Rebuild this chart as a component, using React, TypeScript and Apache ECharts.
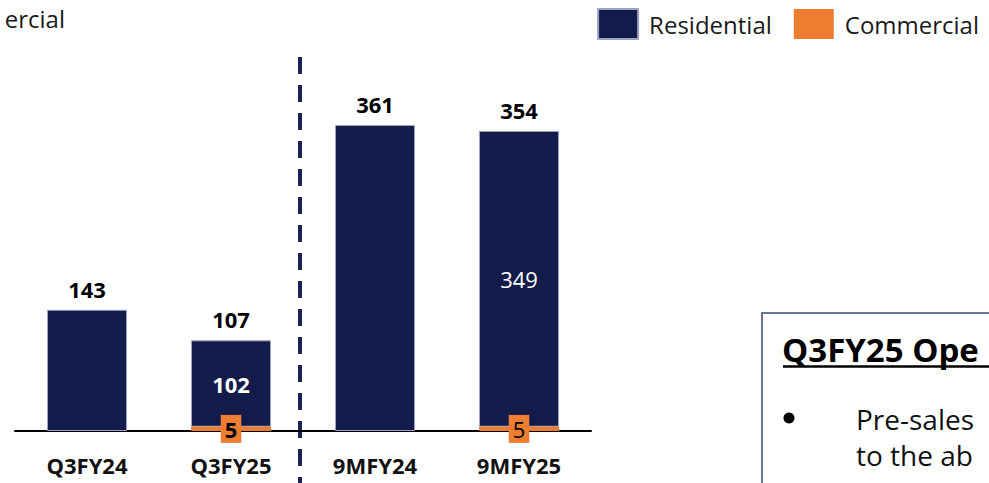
import React, { useEffect, useRef } from "react";
import * as echarts from "echarts";

// Pre-sales by period (values in the same unit as the labels)
const categories = ["Q3FY24", "Q3FY25", "9MFY24", "9MFY25"];
const residential = [143, 102, 361, 349];
const commercial = [0, 5, 0, 5];
const totals = [143, 107, 361, 354];
// which periods have their stacked parts labelled, and whether bold
const showParts = [false, true, false, true];
const boldParts = [false, true, false, false];

const NAVY = "#131B4B";
const ORANGE = "#ED7D31";
const FONT = '"Open Sans", "Noto Sans", sans-serif';

export default function App() {
  const ref = useRef<HTMLDivElement>(null);

  useEffect(() => {
    if (!ref.current) return;
    const chart = echarts.init(ref.current, null, { renderer: "svg" });

    const commercialData = commercial.map((v, i) => ({
      value: v,
      label: {
        show: showParts[i] && v > 0,
        position: "inside",
        formatter: String(v),
        color: "#000",
        fontFamily: FONT,
        fontSize: 22,
        fontWeight: boldParts[i] ? "bold" : "normal",
        backgroundColor: ORANGE,
        padding: [2, 4],
        lineHeight: 24,
      },
    }));

    const residentialData = residential.map((v, i) => ({
      value: v,
      label: {
        show: showParts[i],
        position: "inside",
        formatter: String(v),
        color: "#fff",
        fontFamily: FONT,
        fontSize: 22,
        fontWeight: boldParts[i] ? "bold" : "normal",
      },
    }));

    chart.setOption({
      animation: false,
      textStyle: { fontFamily: FONT },
      legend: {
        data: ["Residential", "Commercial"],
        right: 5,
        top: 3,
        itemWidth: 40,
        itemHeight: 30,
        itemGap: 22,
        icon: "rect",
        textStyle: {
          fontFamily: FONT,
          fontSize: 24,
          color: "#1a1a1a",
          padding: [0, 0, 0, 6],
        },
      },
      grid: { left: 15, right: 398, top: 92, bottom: 52 },
      xAxis: {
        type: "category",
        data: categories,
        axisLine: { lineStyle: { color: "#000", width: 2 } },
        axisTick: { show: false },
        axisLabel: {
          color: "#111",
          fontFamily: FONT,
          fontWeight: "bold",
          fontSize: 22,
          margin: 23,
        },
      },
      yAxis: {
        type: "value",
        min: 0,
        max: 400,
        show: false,
        splitLine: { show: false },
      },
      series: [
        {
          name: "Commercial",
          type: "bar",
          stack: "sales",
          barWidth: 80,
          itemStyle: { color: ORANGE },
          data: commercialData,
          z: 3,
        },
        {
          name: "Residential",
          type: "bar",
          stack: "sales",
          barWidth: 80,
          itemStyle: { color: NAVY, borderColor: "#9aa2c2", borderWidth: 1 },
          data: residentialData,
          z: 2,
        },
        {
          name: "Total",
          type: "scatter",
          data: totals,
          symbolSize: 0,
          itemStyle: { color: "#000" },
          label: {
            show: true,
            position: "top",
            distance: 10,
            color: "#000",
            opacity: 1,
            textBorderWidth: 0,
            fontFamily: FONT,
            fontWeight: "bold",
            fontSize: 22,
          },
          z: 4,
        },
      ],
      graphic: [
        // divider between quarter and nine-month figures
        {
          type: "line",
          shape: { x1: 300, y1: 57, x2: 300, y2: 483 },
          style: { stroke: "#1C2354", lineWidth: 4, lineDash: [17, 11] },
        },
        // tail of a neighbouring legend label
        {
          type: "text",
          x: 65,
          y: 18,
          style: {
            text: "ercial",
            align: "right",
            verticalAlign: "middle",
            fontFamily: FONT,
            fontSize: 24,
            fill: "#1a1a1a",
          },
        },
        // commentary box
        {
          type: "rect",
          shape: { x: 762, y: 313, width: 300, height: 220 },
          style: { fill: "#fff", stroke: "#3B4A74", lineWidth: 1.5 },
        },
        {
          type: "text",
          x: 782,
          y: 349,
          style: {
            text: "Q3FY25 Ope",
            verticalAlign: "middle",
            fontFamily: FONT,
            fontWeight: "bold",
            fontSize: 33,
            fill: "#000",
          },
        },
        {
          type: "line",
          shape: { x1: 783, y1: 366.5, x2: 1100, y2: 366.5 },
          style: { stroke: "#000", lineWidth: 2.5 },
        },
        // bullet marker
        {
          type: "circle",
          shape: { cx: 789, cy: 418, r: 5.5 },
          style: { fill: "#000" },
        },
        {
          type: "text",
          x: 856,
          y: 401,
          style: {
            text: "Pre-sales\nto the ab",
            verticalAlign: "top",
            lineHeight: 36,
            fontFamily: FONT,
            fontSize: 28,
            fill: "#111",
          },
        },
      ],
    });

    return () => chart.dispose();
  }, []);

  return (
    <div
      ref={ref}
      style={{
        position: "fixed",
        left: 0,
        top: 0,
        width: 989,
        height: 483,
        background: "#fff",
        overflow: "hidden",
      }}
    />
  );
}
